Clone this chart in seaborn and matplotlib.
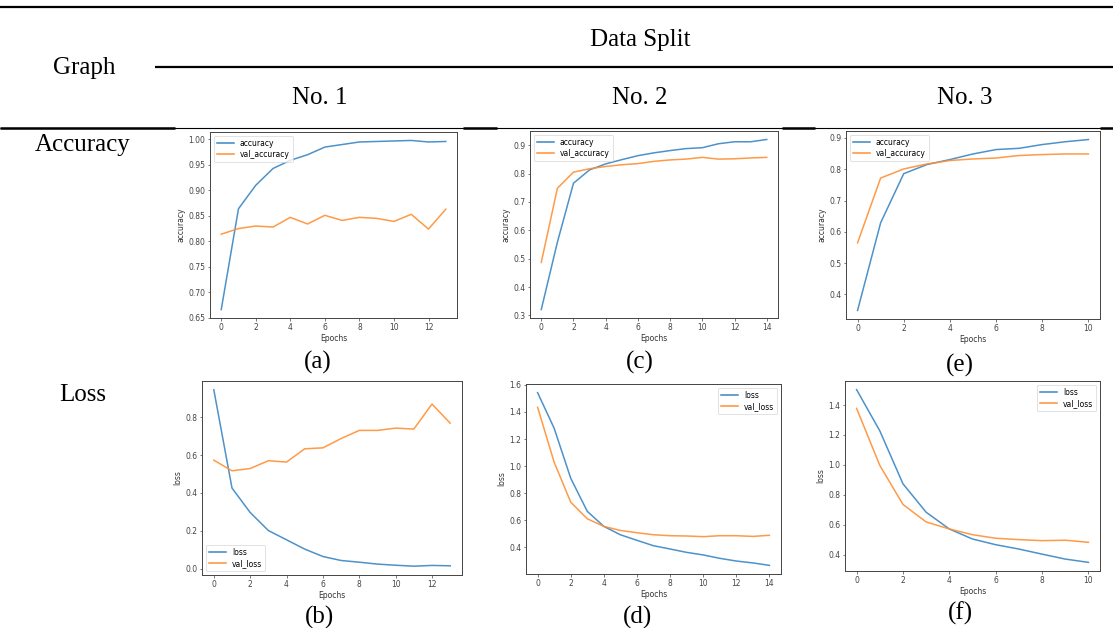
import numpy as np
import pandas as pd
import matplotlib
matplotlib.use("Agg")
import matplotlib.pyplot as plt
from matplotlib.lines import Line2D
from matplotlib.ticker import MultipleLocator
import seaborn as sns

# ---------------- data ----------------
acc_1 = [0.666, 0.864, 0.910, 0.943, 0.959, 0.970, 0.985, 0.990, 0.995, 0.996, 0.997, 0.998, 0.995, 0.996]
val_acc_1 = [0.814, 0.825, 0.830, 0.828, 0.847, 0.834, 0.851, 0.841, 0.847, 0.845, 0.839, 0.853, 0.824, 0.863]
loss_1 = [0.944, 0.426, 0.297, 0.202, 0.153, 0.104, 0.065, 0.044, 0.035, 0.025, 0.019, 0.014, 0.018, 0.016]
val_loss_1 = [0.573, 0.517, 0.529, 0.570, 0.563, 0.633, 0.638, 0.687, 0.730, 0.730, 0.742, 0.737, 0.869, 0.768]

acc_2 = [0.321, 0.558, 0.766, 0.813, 0.834, 0.849, 0.863, 0.873, 0.881, 0.888, 0.891, 0.905, 0.912, 0.912, 0.920]
val_acc_2 = [0.487, 0.748, 0.805, 0.817, 0.825, 0.831, 0.835, 0.843, 0.848, 0.851, 0.857, 0.851, 0.852, 0.855, 0.857]
loss_2 = [1.543, 1.280, 0.911, 0.666, 0.555, 0.493, 0.452, 0.412, 0.388, 0.363, 0.344, 0.319, 0.299, 0.285, 0.267]
val_loss_2 = [1.435, 1.029, 0.734, 0.611, 0.555, 0.525, 0.508, 0.493, 0.486, 0.484, 0.479, 0.486, 0.486, 0.481, 0.489]

acc_3 = [0.349, 0.629, 0.786, 0.815, 0.831, 0.849, 0.863, 0.867, 0.879, 0.888, 0.895]
val_acc_3 = [0.565, 0.772, 0.801, 0.817, 0.828, 0.833, 0.836, 0.844, 0.847, 0.849, 0.849]
loss_3 = [1.503, 1.228, 0.874, 0.684, 0.572, 0.505, 0.467, 0.438, 0.404, 0.371, 0.349]
val_loss_3 = [1.378, 0.997, 0.736, 0.619, 0.572, 0.534, 0.510, 0.501, 0.494, 0.497, 0.483]

split_labels = ["No. 1", "No. 2", "No. 3"]
row_labels = ["Accuracy", "Loss"]
captions_top = ["(a)", "(c)", "(e)"]
captions_bottom = ["(b)", "(d)", "(f)"]

W, H = 1113, 628
fig = plt.figure(figsize=(W / 100, H / 100), dpi=100)
fig.patch.set_facecolor("white")

def fx(x):
    return x / W

def fy(y):
    return 1 - y / H

def hline(y, x0, x1, lw):
    fig.add_artist(Line2D([fx(x0), fx(x1)], [fy(y), fy(y)], color="black",
                          lw=lw, transform=fig.transFigure, solid_capstyle="butt"))

serif = "Liberation Serif"
FS = 18

# table rules
hline(7, 0, W, 1.6)
hline(67, 155, W, 1.6)
hline(128, 0, W, 0.8)
for x0, x1 in [(0, 175), (463, 497), (782, 815), (1100, W)]:
    hline(127.5, x0, x1, 1.8)

# table text
fig.text(fx(640), fy(40), "Data Split", ha="center", va="center", fontsize=FS, family=serif)
fig.text(fx(84), fy(68), "Graph", ha="center", va="center", fontsize=FS, family=serif)
for xc, lab in zip([320, 640, 965], split_labels):
    fig.text(fx(xc), fy(98), lab, ha="center", va="center", fontsize=FS, family=serif)
fig.text(fx(83), fy(145), row_labels[0], ha="center", va="center", fontsize=FS, family=serif)
fig.text(fx(83), fy(395), row_labels[1], ha="center", va="center", fontsize=FS, family=serif)
for xc, yc, lab in zip([318, 640, 960], [362, 362, 365], captions_top):
    fig.text(fx(xc), fy(yc), lab, ha="center", va="center", fontsize=FS, family=serif)
for xc, yc, lab in zip([320, 638, 960], [617, 617, 613], captions_bottom):
    fig.text(fx(xc), fy(yc), lab, ha="center", va="center", fontsize=FS, family=serif)

BLUE = "#3a86c4"
ORANGE = "#ff8f33"

def make_ax(box, train, val, names, ylabel, ystep, legend_loc):
    x0, x1, y0, y1 = box
    ax = fig.add_axes([fx(x0), fy(y1), fx(x1 - x0), (y1 - y0) / H])
    epochs = np.arange(len(train))
    df = pd.DataFrame({"Epochs": np.concatenate([epochs, epochs]),
                       "value": np.concatenate([train, val]),
                       "series": [names[0]] * len(train) + [names[1]] * len(val)})
    sns.lineplot(data=df, x="Epochs", y="value", hue="series",
                 palette=[BLUE, ORANGE], ax=ax, lw=1.1, alpha=0.9, legend=False)
    ax.set_xlabel("Epochs", fontsize=5.5, labelpad=2, color="#333333")
    ax.set_ylabel(ylabel, fontsize=5.5, labelpad=2, color="#333333")
    ax.xaxis.set_major_locator(MultipleLocator(2))
    ax.yaxis.set_major_locator(MultipleLocator(ystep))
    ax.tick_params(labelsize=5.5, length=1.8, width=0.5, pad=1.5, colors="#444444")
    for sp in ax.spines.values():
        sp.set_linewidth(0.7)
        sp.set_color("#444444")
    ax.margins(x=0.05, y=0.05)
    handles = [Line2D([], [], color=BLUE, lw=1.1), Line2D([], [], color=ORANGE, lw=1.1)]
    leg = ax.legend(handles, names, loc=legend_loc, fontsize=5.5, frameon=True,
                    handlelength=2.2, borderpad=0.4, labelspacing=0.3)
    leg.get_frame().set_linewidth(0.5)
    return ax

acc_names = ["accuracy", "val_accuracy"]
loss_names = ["loss", "val_loss"]

make_ax((210, 457, 132, 318), acc_1, val_acc_1, acc_names, "accuracy", 0.05, "upper left")
make_ax((530, 778, 131, 318), acc_2, val_acc_2, acc_names, "accuracy", 0.1, "upper left")
make_ax((846, 1100, 131, 319), acc_3, val_acc_3, acc_names, "accuracy", 0.1, "upper left")
make_ax((202, 462, 381, 575), loss_1, val_loss_1, loss_names, "loss", 0.2, "lower left")
make_ax((526, 781, 384, 574), loss_2, val_loss_2, loss_names, "loss", 0.2, "upper right")
make_ax((845, 1100, 381, 571), loss_3, val_loss_3, loss_names, "loss", 0.2, "upper right")

fig.savefig("out.png", dpi=100, facecolor="white")
